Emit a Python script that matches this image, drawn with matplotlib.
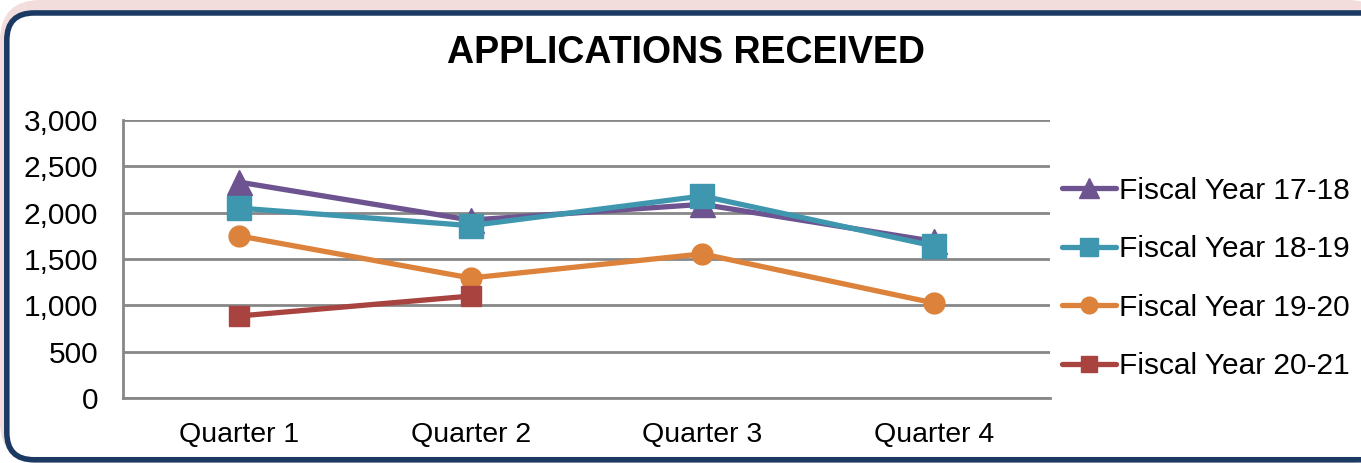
import matplotlib
matplotlib.use("Agg")
import matplotlib.pyplot as plt
from matplotlib.patches import FancyBboxPatch

plt.rcParams['font.family'] = ['Liberation Sans', 'DejaVu Sans']

quarters = ['Quarter 1', 'Quarter 2', 'Quarter 3', 'Quarter 4']
fy_17_18 = [2330, 1920, 2090, 1690]
fy_18_19 = [2050, 1860, 2180, 1640]
fy_19_20 = [1750, 1295, 1555, 1025]
fy_20_21 = [885, 1100]

series = [
    ('Fiscal Year 17-18', fy_17_18, '#6d5390', '^', 18),
    ('Fiscal Year 18-19', fy_18_19, '#3e97ae', 's', 17),
    ('Fiscal Year 19-20', fy_19_20, '#dc823a', 'o', 15),
    ('Fiscal Year 20-21', fy_20_21, '#a84340', 's', 14),
]

fig = plt.figure(figsize=(13.61, 4.63), dpi=100)

# pinkish glow + dark blue rounded frame
glow = FancyBboxPatch((0.0, 0.0), 1.02, 1.0, boxstyle="round,pad=0,rounding_size=0.03",
                      transform=fig.transFigure, facecolor='#f3dcdc', edgecolor='none',
                      mutation_aspect=1361 / 463, zorder=-3)
fig.patches.append(glow)
frame = FancyBboxPatch((0.005, 0.007), 1.02, 0.965, boxstyle="round,pad=0,rounding_size=0.02",
                       transform=fig.transFigure, facecolor='white', edgecolor='#1b3a63',
                       linewidth=4, mutation_aspect=1361 / 463, zorder=-2)
fig.patches.append(frame)

ax = fig.add_axes([0.0904, 0.1404, 0.681, 0.6004])
ax.set_facecolor('none')
x = list(range(len(quarters)))
for name, vals, col, mk, ms in series:
    ax.plot(x[:len(vals)], vals, color=col, marker=mk, markersize=ms, linewidth=3.8,
            label=name, solid_capstyle='round')

ax.set_xlim(-0.5, 3.5)
ax.set_ylim(0, 3000)
ax.set_yticks(range(0, 3001, 500))
ax.set_yticklabels(['{:,}'.format(v) for v in range(0, 3001, 500)])
ax.set_xticks(x)
ax.set_xticklabels(quarters)
ax.tick_params(axis='y', length=0, labelsize=21.5, pad=18)
ax.tick_params(axis='x', length=0, labelsize=20.5, pad=17)
ax.grid(axis='y', color='#878787', linewidth=2)
ax.set_axisbelow(True)
for s in ['top', 'right']:
    ax.spines[s].set_visible(False)
for s in ['left', 'bottom']:
    ax.spines[s].set_color('#878787')
    ax.spines[s].set_linewidth(2)

ax.legend(loc='center left', bbox_to_anchor=(1.0, 0.43), frameon=False, fontsize=21.5,
          handlelength=1.8, handletextpad=0.1, labelspacing=1.02, borderaxespad=0.0,
          markerscale=0.8)

fig.text(0.504, 0.885, 'APPLICATIONS RECEIVED', ha='center', va='center',
         fontsize=27, fontweight='bold')

fig.savefig('out.png', dpi=100)
